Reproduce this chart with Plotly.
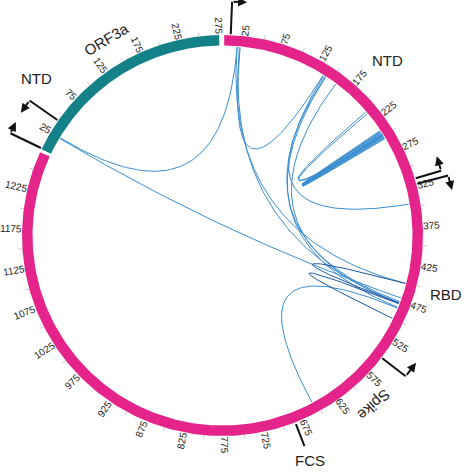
import numpy as np
import plotly.graph_objects as go

# ---------------- data ----------------
protein_names = ["Spike", "ORF3a"]
protein_lengths = [1273, 275]

spike_tick_labels = [25, 75, 125, 175, 225, 275, 325, 375, 425, 475, 525, 575, 625,
                     675, 725, 775, 825, 875, 925, 975, 1025, 1075, 1125, 1175, 1225]
orf3a_tick_labels = [25, 75, 125, 175, 225, 275]
spike_minor_ticks = [50, 100, 150, 200, 250, 300, 350, 400, 450, 500, 550, 600, 650, 700,
                     750, 800, 850, 900, 950, 1000, 1050, 1100, 1150, 1200, 1250]
orf3a_minor_ticks = [50, 100, 150, 200, 250]

# intra-Spike crosslinks (residue a, residue b, colour group)
spike_link_a = [21, 17, 20, 138, 140, 141, 157, 211, 214, 242, 243, 244, 245, 246, 247, 248,
                451, 479, 485]
spike_link_b = [137, 451, 478, 476, 346, 484, 478, 249, 250, 248, 249, 250, 251, 252, 253, 254,
                478, 500, 655]
spike_link_group = ["light"] * 16 + ["dark", "dark", "light"]

# ORF3a - Spike crosslinks
orf3a_link_pos = [24, 23]
orf3a_link_spike_pos = [17, 471]

# domain boundary markers
marker_protein = ["Spike", "Spike", "Spike", "Spike", "ORF3a", "ORF3a"]
marker_pos = [8, 316, 323, 550, 1, 41]
marker_dir = ["cw", "ccw", "cw", "ccw", "cw", "ccw"]
fcs_pos = 685

domain_labels = ["NTD", "RBD", "FCS", "Spike", "ORF3a", "NTD"]

# ---------------- layout helpers ----------------
DEG_PER_RES = 0.231
START = {"Spike": 0.5, "ORF3a": 295.5}
R_IN, R_OUT, R_LINK = 190.0, 200.5, 189.0
COLORS = {"Spike": "#E5248B", "ORF3a": "#138187"}
LINK_COLORS = {"light": "#3A8ED1", "dark": "#1F58A4"}


def theta(protein, pos):
    return START[protein] + pos * DEG_PER_RES


def xy(th, r):
    t = np.radians(th)
    return r * np.sin(t), r * np.cos(t)


fig = go.Figure()

# ring segments
for name, length in zip(protein_names, protein_lengths):
    ths = np.linspace(theta(name, 0), theta(name, length), 300)
    xo, yo = xy(ths, R_OUT)
    xi, yi = xy(ths[::-1], R_IN)
    fig.add_trace(go.Scatter(x=np.concatenate([xo, xi, xo[:1]]), y=np.concatenate([yo, yi, yo[:1]]),
                             mode="lines", fill="toself", fillcolor=COLORS[name],
                             line=dict(width=0, color=COLORS[name]), hoverinfo="skip"))

# minor ticks
tx, ty = [], []
for name, ticks in (("Spike", spike_minor_ticks), ("ORF3a", orf3a_minor_ticks)):
    for p in ticks:
        x0, y0 = xy(theta(name, p), R_OUT)
        x1, y1 = xy(theta(name, p), R_OUT + 4)
        tx += [x0, x1, None]
        ty += [y0, y1, None]
fig.add_trace(go.Scatter(x=tx, y=ty, mode="lines", line=dict(color="#c8c8c8", width=1), hoverinfo="skip"))


# links
def bezier(th0, th1):
    x0, y0 = xy(th0, R_LINK)
    x1, y1 = xy(th1, R_LINK)
    t = np.linspace(0, 1, 80)
    bx = (1 - t) ** 2 * x0 + t ** 2 * x1
    by = (1 - t) ** 2 * y0 + t ** 2 * y1
    return list(bx) + [None], list(by) + [None]


groups = {"light": ([], []), "dark": ([], [])}
for a, b, g in zip(spike_link_a, spike_link_b, spike_link_group):
    bx, by = bezier(theta("Spike", a), theta("Spike", b))
    groups[g][0].extend(bx)
    groups[g][1].extend(by)
for o, s in zip(orf3a_link_pos, orf3a_link_spike_pos):
    bx, by = bezier(theta("ORF3a", o), theta("Spike", s))
    groups["light"][0].extend(bx)
    groups["light"][1].extend(by)
for g, (gx, gy) in groups.items():
    fig.add_trace(go.Scatter(x=gx, y=gy, mode="lines", line=dict(color=LINK_COLORS[g], width=1),
                             hoverinfo="skip"))

annotations = []
FONT = "Liberation Sans, Arial, sans-serif"

# tick labels
for name, labels in (("Spike", spike_tick_labels), ("ORF3a", orf3a_tick_labels)):
    for p in labels:
        th = theta(name, p)
        txt = str(p)
        r = 201.5 + len(txt) * 2.6
        x, y = xy(th, r)
        ang = th - 90 if th <= 180 else th - 270
        annotations.append(dict(x=x, y=y, xref="x", yref="y", text=txt, showarrow=False,
                                textangle=ang, font=dict(size=10, color="#222", family=FONT)))

# domain markers
marker_elbow = [234, 228, 233.5, 231, 235.5, 235.5]
marker_tang = [15, 15, 15, 17, 12.5, 15]
mx, my = [], []
for prot, p, d, re, L in zip(marker_protein, marker_pos, marker_dir, marker_elbow, marker_tang):
    th = theta(prot, p)
    x0, y0 = xy(th, R_OUT + 1)
    x1, y1 = xy(th, re)
    t = np.radians(th)
    s = 1 if d == "cw" else -1
    x2, y2 = x1 + s * L * np.cos(t), y1 - s * L * np.sin(t)
    mx += [x0, x1, None]
    my += [y0, y1, None]
    annotations.append(dict(x=x2, y=y2, ax=x1, ay=y1, xref="x", yref="y", axref="x", ayref="y",
                            text="", showarrow=True, arrowhead=2, arrowsize=0.9, arrowwidth=2,
                            arrowcolor="#111"))
th = theta("Spike", fcs_pos)
x0, y0 = xy(th, R_OUT + 2)
x1, y1 = xy(th, 226)
mx += [x0, x1, None]
my += [y0, y1, None]
fig.add_trace(go.Scatter(x=mx, y=my, mode="lines", line=dict(color="#111", width=2), hoverinfo="skip"))

# domain labels: (angle, radius, rotation)
label_pos = [(43.3, 241, 0), (104.7, 231, 0), (158.7, 242, 0), (138.2, 227, 138.2),
             (329.3, 228, -30.7), (310.2, 244, 0)]
for txt, (th, r, rot) in zip(domain_labels, label_pos):
    x, y = xy(th, r)
    annotations.append(dict(x=x, y=y, xref="x", yref="y", text=txt, showarrow=False,
                            textangle=rot, font=dict(size=15, color="#222", family=FONT)))

fig.update_layout(
    width=470, height=475, margin=dict(l=0, r=0, t=0, b=0),
    paper_bgcolor="white", plot_bgcolor="white", showlegend=False, hovermode=False,
    xaxis=dict(range=[-222.5, 247.5], visible=False, fixedrange=True),
    yaxis=dict(range=[-239.5, 235.5], visible=False, fixedrange=True),
    annotations=annotations,
)

fig.write_html("out.html", config={"displayModeBar": False},
               post_script="document.body.style.margin='0px';")
